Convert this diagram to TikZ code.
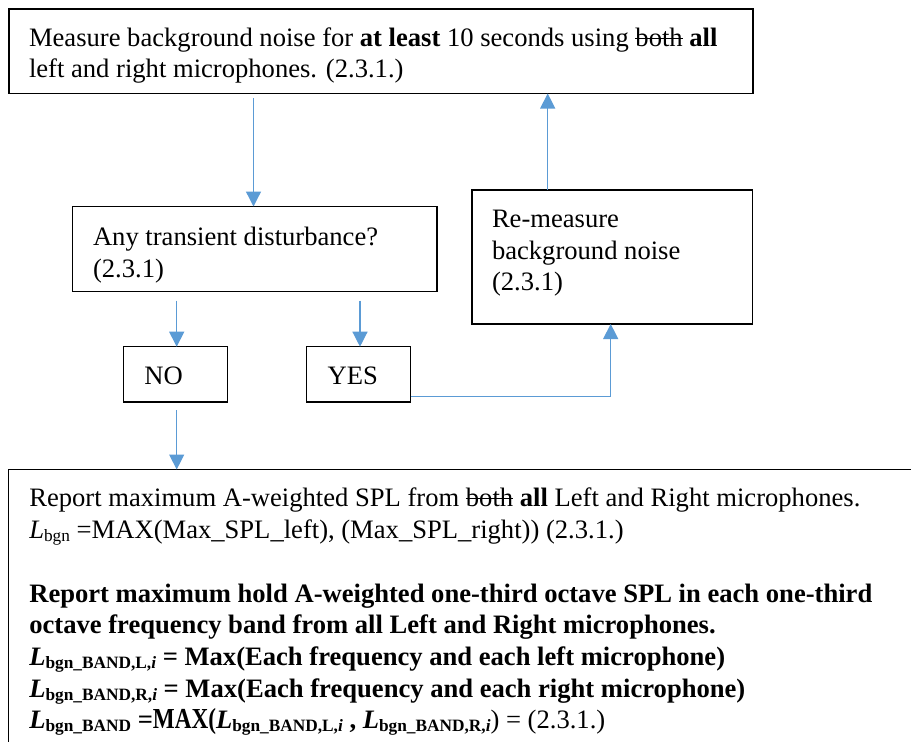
\documentclass[tikz,border=0pt]{standalone}
\usepackage{fontspec}
\setmainfont{Liberation Serif}
\usetikzlibrary{arrows.meta}
\definecolor{arrowblue}{RGB}{91,155,213}
\newsavebox\strkbox
\newcommand\strk[1]{\sbox\strkbox{#1}\rlap{\rule[0.27em]{\wd\strkbox}{1.3pt}}\usebox\strkbox}
\newcommand\fsz{\fontsize{26.6}{32}\selectfont}
\newcommand\mysub[1]{\raisebox{-3.5pt}{\fontsize{17.3}{18}\selectfont #1}}
\newcommand\bigmax[1]{{\fontsize{29}{32}\selectfont\scalebox{0.8}[1]{#1}}}
\begin{document}
\begin{tikzpicture}[x=1pt,y=-1pt,
  box/.style={draw=black, line width=1.5pt, inner sep=0pt, outer sep=0pt, anchor=north west},
  txt/.style={anchor=base west, inner sep=0pt, outer sep=0pt, font=\fsz},
  arr/.style={draw=arrowblue, line width=1.3pt, -{Triangle[width=15pt,length=15pt]}}]
\useasboundingbox (0,0) rectangle (911,742);
\clip (0,0) rectangle (911,742);
\fill[white] (0,0) rectangle (911,742);
% boxes
\node[box, minimum width=744pt, minimum height=84.5pt] (top) at (9,9) {};
\node[box, minimum width=364.5pt, minimum height=85pt] (dec) at (72.5,206.5) {};
\node[box, minimum width=280.7pt, minimum height=134pt] (rem) at (472,190) {};
\node[box, minimum width=104.4pt, minimum height=55.3pt] (no) at (123.3,346.7) {};
\node[box, minimum width=104.4pt, minimum height=55.3pt] (yes) at (306.3,346.7) {};
\node[box, minimum width=1000pt, minimum height=400pt] (bot) at (8.3,469.5) {};
% texts
\node[txt] (top1) at (29,46) {Measure background noise for \textbf{at least} 10 seconds using \strk{both} \textbf{all}};
\node[txt] (top2) at (29,77) {left and right microphones. (2.3.1.)};
\node[txt] (dec1) at (93,245) {Any transient disturbance?};
\node[txt] (dec2) at (93,277) {(2.3.1)};
\node[txt] (rem1) at (492,227) {Re-measure};
\node[txt] (rem2) at (492,259) {background noise};
\node[txt] (rem3) at (492,290) {(2.3.1)};
\node[txt] (nolab) at (144.3,384) {NO};
\node[txt] (yeslab) at (327.7,384) {YES};
\node[txt] (b1) at (29.3,506) {Report maximum A-weighted SPL from \strk{both} \textbf{all} Left and Right microphones.};
\node[txt] (b2) at (29.3,538) {\textit{L}\mysub{bgn} =MAX(Max\_SPL\_left), (Max\_SPL\_right)) (2.3.1.)};
\node[txt] (b4) at (29.3,602) {\textbf{Report maximum hold A-weighted one-third octave SPL in each one-third}};
\node[txt] (b5) at (29.3,633) {\textbf{octave frequency band from all Left and Right microphones.}};
\node[txt] (b6) at (29.3,665) {\textbf{\textit{L}\mysub{bgn\_BAND,L,\textit{i}} = Max(Each frequency and each left microphone)}};
\node[txt] (b7) at (29.3,697) {\textbf{\textit{L}\mysub{bgn\_BAND,R,\textit{i}} = Max(Each frequency and each right microphone)}};
\node[txt] (b8) at (29.3,728) {\textbf{\textit{L}\mysub{bgn\_BAND} =\bigmax{MAX(}\textit{L}\mysub{bgn\_BAND,L,\textit{i}} , \textit{L}\mysub{bgn\_BAND,R,\textit{i}}}) = (2.3.1.)};
% connectors
\coordinate (a1) at (253.5,98);
\draw[arr] (a1) -- (a1 |- dec.north);
\draw[arr] ([xshift=75.7pt]rem.north west) -- ([xshift=75.7pt]rem.north west |- top.south);
\coordinate (a3) at (176.7,300.7);
\draw[arr] (a3) -- (a3 |- no.north);
\coordinate (a4) at (360,300.7);
\draw[arr] (a4) -- (a4 |- yes.north);
\draw[arr] ([yshift=5.3pt]yes.south east) -| ([xshift=138.7pt]rem.south west);
\coordinate (a6) at (176.7,410);
\draw[arr] (a6) -- (a6 |- bot.north);
\end{tikzpicture}
\end{document}
